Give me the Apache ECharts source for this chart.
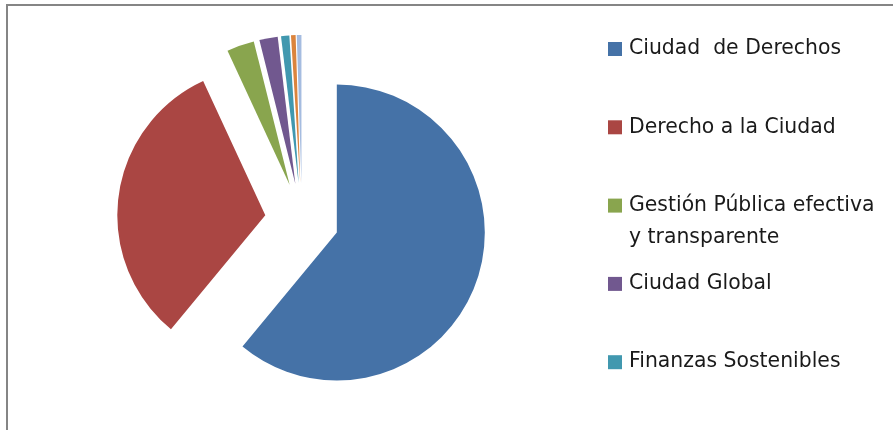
<!DOCTYPE html>
<html>
<head>
<meta charset="utf-8">
<script src="https://cdn.jsdelivr.net/npm/echarts@6/dist/echarts.min.js"></script>
<style>
html,body{margin:0;padding:0;background:#fff;}
#chart{width:893px;height:430px;}
</style>
</head>
<body>
<div id="chart"></div>
<script>
const categories = ["Ciudad  de Derechos","Derecho a la Ciudad","Gestión Pública efectiva y transparente","Ciudad Global","Finanzas Sostenibles","Participación","Descentralización"];
const values = [61.0, 32.1, 3.0, 2.0, 0.9, 0.5, 0.5];
const colors = ["#4572A7","#AA4643","#89A54E","#71588F","#4198AF","#DB843D","#A5BCE0"];
const legendLabels = ["Ciudad  de Derechos","Derecho a la Ciudad","Gestión Pública efectiva\ny transparente","Ciudad Global","Finanzas Sostenibles"];
const legendCount = 5;

const chart = echarts.init(document.getElementById('chart'), null, {renderer:'canvas'});
const fontFamily = '"DejaVu Sans", "Open Sans", sans-serif';
const lineH = 32;
const legends = [];
for (let i = 0; i < legendCount; i++) {
  const lines = legendLabels[i].split('\n');
  const multi = lines.length > 1;
  // for wrapped labels, add blank line on top so the icon sits on the first line
  const text = multi ? ' \n' + legendLabels[i] : legendLabels[i];
  const half = multi ? lineH * 1.5 : lineH / 2;
  const iconCenter = 49 + i * 78.3;
  legends.push({
    data: [categories[i]],
    orient: 'vertical',
    left: 608,
    top: iconCenter - half,
    itemWidth: 14,
    itemHeight: 14,
    itemGap: 0,
    padding: 0,
    icon: 'rect',
    selectedMode: false,
    formatter: () => text,
    textStyle: {
      fontFamily: fontFamily,
      fontSize: 20.4,
      color: '#1a1a1a',
      lineHeight: lineH,
      padding: [0, 0, 0, 2]
    }
  });
}

chart.setOption({
  animation: false,
  color: colors,
  legend: legends,
  graphic: [{
    type: 'rect',
    shape: {x: 7, y: 5, width: 1000, height: 1000},
    style: {fill: 'none', stroke: '#858585', lineWidth: 2},
    silent: true
  }],
  series: [{
    type: 'pie',
    center: [302, 220],
    radius: [0, 148],
    startAngle: 90,
    clockwise: true,
    selectedMode: 'multiple',
    selectedOffset: 37,
    label: {show: false},
    labelLine: {show: false},
    emphasis: {disabled: true},
    data: categories.map((n, i) => ({name: n, value: values[i], selected: true}))
  }]
});
</script>
</body>
</html>
